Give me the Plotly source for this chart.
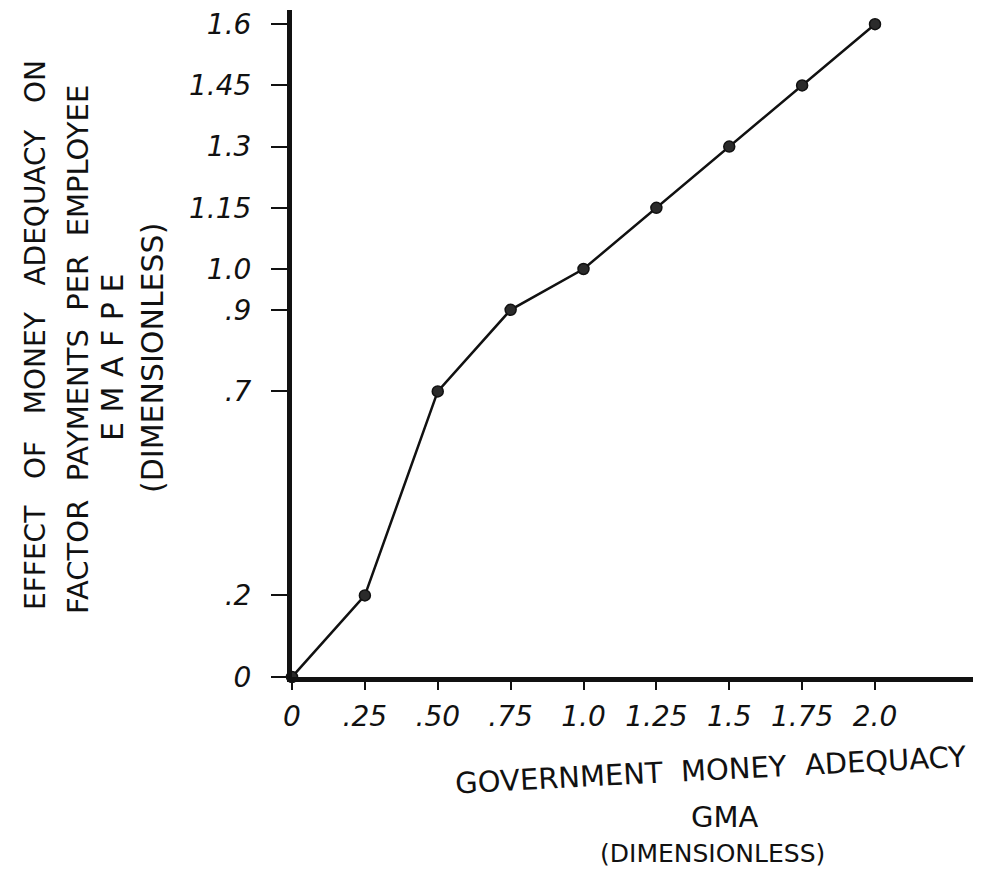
import plotly.graph_objects as go

gma = [0, 0.25, 0.50, 0.75, 1.0, 1.25, 1.5, 1.75, 2.0]
emafpe = [0, 0.2, 0.7, 0.9, 1.0, 1.15, 1.3, 1.45, 1.6]

x_tickvals = [0, 0.25, 0.50, 0.75, 1.0, 1.25, 1.5, 1.75, 2.0]
x_ticktext = ["0", ".25", ".50", ".75", "1.0", "1.25", "1.5", "1.75", "2.0"]
y_tickvals = [0, 0.2, 0.7, 0.9, 1.0, 1.15, 1.3, 1.45, 1.6]
y_ticktext = ["0", ".2", ".7", ".9", "1.0", "1.15", "1.3", "1.45", "1.6"]

NB = "\u00a0"
y_title_lines = [
    f"EFFECT{NB}{NB} OF{NB}{NB} MONEY{NB}{NB} ADEQUACY{NB}{NB} ON",
    f"FACTOR{NB} PAYMENTS{NB} PER{NB} EMPLOYEE",
    "E M A F P E",
    "(DIMENSIONLESS)",
]
x_title_lines = [
    f"GOVERNMENT{NB} MONEY{NB} ADEQUACY",
    "GMA",
    "(DIMENSIONLESS)",
]

# page body has an 8px margin, so the figure is 8px smaller than the window
OFF = 8
W, H = 981 - OFF, 875 - OFF
ML, MR, MT, MB = 284, 0, 2, 198
PW, PH = W - ML - MR, H - MT - MB

def px(sx, sy):
    fx, fy = sx - OFF, sy - OFF
    return (fx - ML) / PW, (H - MB - fy) / PH

FONT = "DejaVu Sans"
INK = "#111111"

fig = go.Figure()
fig.add_trace(go.Scatter(
    x=gma, y=emafpe, mode="lines+markers",
    line=dict(color=INK, width=2.5),
    marker=dict(size=11, color="#2b2b2b", line=dict(color=INK, width=1.5)),
    cliponaxis=False, showlegend=False, hoverinfo="x+y",
))

annotations = []
# y-axis title columns (rotated)
ycols = [(35, 335, 28), (78, 350, 29), (112, 358, 30), (152, 358, 30)]
for text, (cx, cy, fs) in zip(y_title_lines, ycols):
    ax_, ay_ = px(cx, cy)
    annotations.append(dict(text=text, x=ax_, y=ay_, xref="paper", yref="paper",
                            showarrow=False, textangle=-90, xanchor="center", yanchor="middle",
                            font=dict(family=FONT, size=fs, color=INK)))
# x-axis title lines
xrows = [(711, 770, 29, -3), (724, 817, 29, 0), (712, 853, 25, 0)]
for text, (cx, cy, fs, ang) in zip(x_title_lines, xrows):
    ax_, ay_ = px(cx, cy)
    annotations.append(dict(text=text, x=ax_, y=ay_, xref="paper", yref="paper",
                            showarrow=False, textangle=ang, xanchor="center", yanchor="middle",
                            font=dict(family=FONT, size=fs, color=INK)))

fig.update_layout(
    width=W, height=H,
    margin=dict(l=ML, r=MR, t=MT, b=MB, pad=0),
    paper_bgcolor="white", plot_bgcolor="white",
    annotations=annotations,
    xaxis=dict(
        range=[0, PW / 291.5], showgrid=False, zeroline=False,
        showline=True, linecolor=INK, linewidth=5,
        ticks="outside", ticklen=8, tickwidth=2, tickcolor=INK,
        tickvals=x_tickvals, ticktext=x_ticktext,
        tickfont=dict(family=FONT, size=28, color=INK, style="italic"),
        ticklabelstandoff=2,
    ),
    yaxis=dict(
        range=[0, PH / 408.0], showgrid=False, zeroline=False,
        showline=True, linecolor=INK, linewidth=5,
        ticks="outside", ticklen=16, tickwidth=2, tickcolor=INK,
        tickvals=y_tickvals, ticktext=y_ticktext,
        tickfont=dict(family=FONT, size=28, color=INK, style="italic"),
        ticklabelstandoff=14,
    ),
)

fig.write_html("out.html")
